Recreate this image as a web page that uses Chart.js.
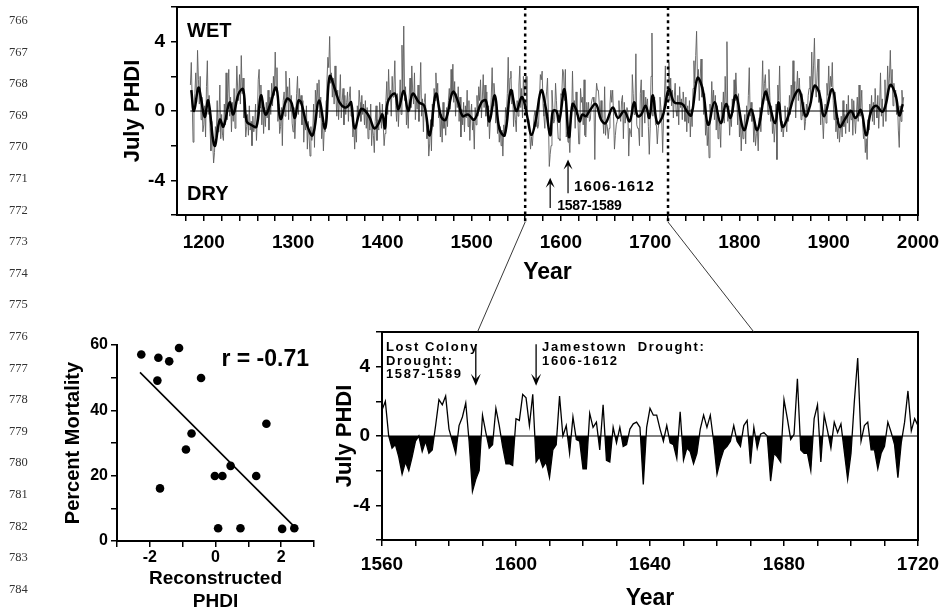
<!DOCTYPE html>
<html><head><meta charset="utf-8">
<script src="https://cdn.jsdelivr.net/npm/chart.js@4.4.1/dist/chart.umd.min.js"></script>
<style>
html,body{margin:0;padding:0;background:#fff}
body{width:944px;height:614px;overflow:hidden;position:relative;font-family:"Liberation Sans",Arial,sans-serif}
canvas{position:absolute}
.ln{position:absolute;left:9px;font-family:"Liberation Serif","Times New Roman",serif;font-size:12.5px;color:#333;line-height:14px}
</style></head><body>
<canvas id="top" width="944" height="290" style="left:0;top:0"></canvas>
<canvas id="scat" width="290" height="314" style="left:40px;top:300px"></canvas>
<canvas id="zoom" width="644" height="314" style="left:300px;top:300px"></canvas>
<canvas id="over" width="944" height="614" style="left:0;top:0;pointer-events:none"></canvas>
<script>
// ---------------- DATA ----------------
const lineNumbers = [766,767,768,769,770,771,772,773,774,775,776,777,778,779,780,781,782,783,784];

// Reconstructed July PHDI, annual, 1185-1559
const recStartYear = 1185;
const recPHDI_early = [
 1.5, 2.8, 0.6, -1.8, 0.2,
 1.0, 2.2, 0.5, 3.5, 1.8, 0.4, 2.0, -0.5, 0.8, -1.2,
 -0.8, 0.3, -1.5, 1.4, 2.9, -0.2, 0.9, -1.0, -2.3, -0.6,
 -1.8, -3.0, -2.4, -0.9, -1.5, 0.6, -1.2, -0.3, 1.5, -1.6,
 -0.2, -1.4, -1.7, 0.4, -0.8, 2.2, -0.5, 1.0, 2.4, -0.3,
 0.8, -1.2, 0.5, -0.6, 1.3, -1.0, 0.4, 2.6, 1.2, 0.6,
 2.1, 0.4, 3.2, 1.0, 1.9, -0.4, 0.2, -1.5, -0.9, -0.2,
 -1.4, 0.3, -1.1, -0.6, -2.0, -0.3, -1.2, -0.8, 0.4, -1.7,
 -0.5, 1.8, 2.4, 0.2, 1.5, -0.8, 0.6, -1.3, 0.2, -0.9,
 0.5, -0.4, 1.2, -1.1, 0.8, -0.2, 1.6, 0.3, 2.0, 0.9,
 3.4, 1.2, 2.5, -0.6, 0.4, -1.3, -0.9, 0.2, -2.0, 0.6,
 1.1, -0.3, 2.3, 0.5, 1.4, -0.5, 1.9, 0.0, 0.9, -0.7,
 -1.2, 0.2, -1.6, -0.4, 1.0, 2.0, -0.2, 1.3, 0.4, 0.9,
 -0.8, 0.6, -1.8, -0.4, -1.1, 0.3, -2.2, -0.6, -1.5, -2.6,
 -0.9, -1.7, -1.3, 0.4, -2.1, 1.2, 0.2, 1.6, 0.5, 1.8,
 -0.4, 0.8, -1.6, -0.7, -2.3, -0.9, -1.2, 0.6, 1.8, 3.1,
 2.5, 4.3, 1.6, 2.2, 0.8, 1.9, 0.4, 2.6, 0.9, -0.3,
 1.2, -0.5, 0.7, 2.1, -0.4, 0.6, 1.3, -0.8, 0.9, -0.2,
 0.5, 1.1, -0.6, 0.8, 1.4, -0.3, 0.2, -1.5, -0.7, -2.2,
 -0.9, -1.8, 0.3, -0.4, 1.2, 0.5, -0.6, 0.9, -0.2, 0.4,
 -0.8, 0.6, -1.0, 0.2, -1.6, -0.3, -1.1, 0.4, -2.0, -0.9,
 -1.4, -2.4, -0.6, 0.3, -1.7, -0.5, -1.1, 0.5, -0.2, -1.0,
 0.4, -0.8, -2.0, -1.3, 0.6, 1.7, -0.2, 2.4, 0.7, 1.2,
 -0.3, 2.0, 0.8, 1.5, 2.9, 0.3, -0.6, 1.0, -0.9, 0.4,
 1.8, -0.2, 3.8, 0.9, 4.9, 0.6, 1.4, -0.8, 0.3, -1.0,
 0.7, 1.9, 0.2, 2.6, 1.1, 0.4, 2.2, -0.5, 0.8, 0.1,
 1.5, -0.6, 0.9, 2.8, -0.3, 0.7, -1.2, 0.5, 1.0, -0.4,
 -1.6, -0.8, -2.6, -1.9, -0.5, -2.3, 0.4, -0.9, 1.3, 0.6,
 2.2, 0.8, 1.6, -0.4, 0.3, -1.5, -0.2, -1.8, 0.5, -1.0,
 -0.6, -1.4, 0.2, -0.9, 0.6, 1.3, 0.1, 2.4, 1.0, 2.7,
 0.5, 1.7, -0.3, 1.0, 0.2, 1.4, -0.6, 0.8, -1.5, 0.1,
 -0.8, 0.5, -1.2, 0.3, -0.4, 1.2, -0.9, 0.6, -1.7, -0.2,
 0.4, -1.1, -0.6, -2.2, 0.2, -0.8, 0.9, -0.3, 1.4, 0.6,
 1.8, -0.4, 0.7, 2.1, 0.2, 1.5, -0.3, 1.1, -0.9, 0.3,
 -1.6, -0.5, 0.8, 2.5, 0.3, 1.6, 0.9, -0.7, 0.4, -1.3,
 -0.6, -1.8, -0.9, -2.0, -1.1, -2.6, -0.8, -1.5, 0.2, -0.4,
 1.0, 3.1, 0.6, 1.9, 2.3, 0.4, 1.2, -0.9, 0.3, -0.5,
 -1.2, 0.6, -0.3, 1.5, 2.6, 0.2, 1.3, -0.4, 2.0, 0.9
];

// Enlarged period 1560-1720 (lower right panel)
const zoomStartYear = 1560;
const zoomPHDI = [
 1.5, 2.0, 0.0, -0.7, -0.5, -1.2, -2.2, -1.5, -2.0, -1.2,
 -0.3, 0.0, -0.9, -0.3, -1.0, -0.8, 0.6, 2.1, 1.8, 2.3,
 0.4, -0.3, -1.0, 0.6, 1.1, 1.9, -0.3, -3.2, -2.5, -2.0,
 1.2, 0.2, -0.7, -0.5, 1.6, 0.6, -0.6, -1.6, -1.6, -1.7,
 1.0, 0.9, 2.4, 2.2, 0.6, 2.4, -1.5, -1.2, -1.8, -1.5,
 -2.4, -0.8, -0.5, 2.3, 0.0, 0.6, -1.0, 1.1, -0.2, -0.3,
 -1.9, -1.9, 1.3, 0.5, 0.8, -0.8, 1.8, -1.4, -1.5, 0.5,
 -0.4, 0.5, -0.6, -0.5, 0.4, 0.7, 0.8, 0.5, -2.8, 0.5,
 1.6, 1.2, 1.2, 0.4, -0.3, 0.6, -0.4, -0.5, -1.3, 1.4,
 -1.4, -0.7, -0.9, -1.6, -1.0, 0.4, 1.2, 0.5, 1.2, -0.3,
 -2.2, -1.4, -0.8, -0.6, -0.3, 0.6, -0.3, -0.6, 0.6, 0.9,
 -1.6, 0.5, -0.7, 0.1, 0.2, 0.0, -2.6, -1.0, -1.2, -1.5,
 2.1, 1.0, -0.2, 0.1, 3.3, -0.8, -1.0, -1.0, -2.0, 1.0,
 1.8, -1.5, 1.2, 0.3, -0.7, 0.8, 0.2, 0.7, -0.9, -2.5,
 -1.0, 2.0, 4.5, -0.3, 0.6, 0.8, -0.8, -0.8, -1.9, -1.0,
 -0.6, 0.8, 0.2, -0.5, -2.4, -0.4, 0.8, 2.6, 0.3, 1.0,
 0.6
];

// Reconstructed July PHDI, annual, 1721-1984
const recPHDI_late = [
 2.8, 0.6, 1.9, 0.3, 1.2, -0.4, 0.8, 1.6, 0.0,
 -0.3, 0.9, -0.8, 1.4, 0.2, 0.7, -0.5, 1.1, 0.4, -0.6,
 0.8, -1.2, 0.3, -0.7, 0.6, -1.5, 0.1, -0.9, 1.3, 2.9,
 1.6, 3.2, 4.6, 1.8, 2.4, 0.6, 1.9, 3.0, 0.8, 1.4,
 -0.2, 1.0, -1.4, -0.6, -2.0, -0.9, -2.7, 0.4, -0.3, 1.7,
 0.2, 1.2, -0.5, 0.9, -1.1, 0.3, -1.6, -0.4, -0.9, -2.1,
 0.5, -0.2, 1.1, -0.7, 2.0, 0.4, 4.0, -0.6, 0.3, -1.4,
 -0.3, -0.9, 0.7, -0.1, 1.8, 0.6, 2.2, 0.9, -0.8, 1.0,
 -1.5, -0.4, -2.3, -0.8, -1.6, -1.0, -0.2, -1.9, 0.3, -0.7,
 0.9, 2.5, -0.3, 0.5, -0.6, 0.1, -1.8, -0.8, -2.0, -1.3,
 -1.0, -2.3, -0.4, 0.2, -1.2, 0.8, 2.9, 0.4, 1.6, 2.1,
 0.6, 1.3, -0.2, 2.4, 0.9, -0.6, 0.3, -1.3, -0.5, -1.8,
 -0.8, 0.4, -2.8, 1.5, 0.6, 2.6, -0.1, -1.2, -0.6, -1.5,
 -0.9, 0.3, -0.7, -1.2, 0.2, -0.6, 0.9, -0.2, 1.5, 0.4,
 2.9, 0.8, 1.7, -0.4, 1.2, 2.3, 0.6, 1.9, 0.8, -0.5,
 1.0, -0.3, 0.5, -1.1, -0.6, 0.4, -0.2, 0.9, 1.3, 2.0,
 0.6, 3.4, 1.1, 2.6, 4.2, 1.5, 0.8, 2.2, 3.0, 0.5,
 1.2, -0.8, 0.7, -0.4, -1.6, -0.2, 0.4, -0.7, 1.6, 0.9,
 2.6, 0.8, 2.0, 1.4, 2.8, 0.6, -0.5, 1.1, -1.2, -0.6,
 -1.6, -0.4, -1.8, -1.1, -0.3, -1.5, 0.6, -0.9, -0.2, -1.3,
 0.4, -0.7, 0.9, -1.2, 0.1, -0.5, 0.7, -1.4, 0.6, -0.4,
 -1.3, -0.2, 0.8, -0.6, 1.5, -0.3, 0.2, 1.2, -0.8, -1.6,
 -0.9, -2.4, -1.6, -2.8, -0.5, -1.1, 0.4, -0.2, 0.9, -0.6,
 0.5, -0.8, 1.3, 0.2, -0.4, 0.9, -1.0, 0.3, 2.2, -0.3,
 0.7, -0.9, 0.2, 1.8, -0.6, 0.5, 2.6, 1.1, 1.9, 3.5,
 1.4, 2.4, 0.3, 1.6, 0.8, 1.2, -0.2, 0.6, -1.1, -2.1,
 0.3, -0.6, 1.2, 0.4, 0.8
];

// Smoothed (low-pass) series, [year, PHDI]
const smoothedPHDI = [
 [1186,1.2],[1189,0.0],[1194,1.35],[1197,0.7],[1201,-0.35],[1205,0.6],[1212,-2.0],[1218,-0.5],
 [1222,-0.9],[1229,0.5],[1233,-0.2],[1239,1.0],[1244,1.25],[1248,-0.6],[1253,-0.8],[1259,-0.9],
 [1264,0.9],[1269,-0.2],[1274,0.3],[1281,1.35],[1286,-0.45],[1293,0.7],[1298,0.5],[1302,-0.4],
 [1306,0.6],[1309,0.5],[1315,-0.7],[1322,-1.4],[1329,0.6],[1336,-1.0],[1341,2.0],[1347,1.25],
 [1352,0.5],[1358,0.2],[1362,0.3],[1365,0.5],[1369,-1.0],[1376,0.1],[1381,0.0],[1386,-0.4],
 [1391,-1.0],[1396,-0.7],[1400,-0.2],[1403,-1.0],[1406,0.5],[1414,1.0],[1418,0.1],[1424,1.15],
 [1429,0.0],[1434,1.0],[1441,0.5],[1447,0.3],[1453,-1.4],[1460,1.0],[1466,-0.35],[1471,-0.5],
 [1479,1.1],[1485,0.5],[1490,-0.3],[1496,-0.2],[1503,-0.5],[1511,0.5],[1516,0.6],[1520,-0.6],
 [1526,0.9],[1531,-1.0],[1537,-1.4],[1544,1.2],[1550,0.0],[1556,0.8],[1559,0.5],[1563,-0.5],
 [1567,-1.4],[1572,-0.5],[1578,1.2],[1583,0.2],[1588,-1.4],[1591,0.0],[1595,0.0],[1598,-0.6],
 [1604,1.25],[1609,-1.5],[1613,0.4],[1617,0.1],[1621,-0.6],[1624,-0.2],[1628,-0.3],[1632,0.0],
 [1639,0.4],[1645,-0.5],[1650,-0.7],[1658,0.2],[1664,-0.4],[1671,0.0],[1677,-0.6],[1682,0.5],
 [1686,-0.3],[1690,-0.2],[1695,0.3],[1699,-0.4],[1703,0.9],[1708,-0.7],[1714,-0.3],[1721,1.25],
 [1727,0.5],[1736,0.4],[1741,0.0],[1746,-0.25],[1753,1.9],[1759,1.2],[1765,-0.8],[1772,0.5],
 [1779,-0.7],[1785,0.4],[1790,-0.4],[1796,0.9],[1805,-1.1],[1813,0.1],[1820,-1.1],[1829,1.1],
 [1833,0.5],[1840,-0.7],[1844,0.5],[1848,-0.9],[1854,-0.4],[1861,0.8],[1867,1.2],[1874,-0.3],
 [1879,0.3],[1884,1.45],[1889,1.1],[1895,-0.3],[1904,1.25],[1912,-0.9],[1919,-0.4],[1925,0.0],
 [1930,-0.4],[1936,0.05],[1942,-1.4],[1947,-0.1],[1953,0.3],[1960,-0.05],[1964,0.4],[1969,1.5],
 [1975,0.9],[1979,-0.25],[1983,0.4]
];

// Scatter: reconstructed PHDI vs percent mortality
const mortPHDI = [-2.26,-1.74,-1.41,-1.11,-1.77,-0.44,-0.73,-0.90,-1.69,-0.02,0.21,0.46,1.24,1.55,0.08,0.76,2.03,2.40];
const mortPct  = [57.1,56.1,55.0,59.1,49.1,49.9,32.9,28.0,16.1,19.9,19.9,23.0,19.9,35.9,3.9,3.9,3.7,3.9];
const fitX = [-2.3, 2.4];
const fitY = [51.6, 4.4];
const corrText = 'r = -0.71';

// Tick labels
const topXLabels = [1200,1300,1400,1500,1600,1700,1800,1900,2000];
const phdiLabels = [4,0,-4];
const zoomXLabels = [1560,1600,1640,1680,1720];
const scatXLabels = [-2,0,2];
const scatYLabels = [0,20,40,60];

// Annotation years
const zoomRange = [1560,1720];
const droughtArrowYears = [1588,1608];
const zoomArrowYears = [1588,1606];
const connectYears = [1588.5,1671];

// ---------------- RENDER ----------------
const FONT = '"Liberation Sans", Arial, Helvetica, sans-serif';
Chart.defaults.font.family = FONT;
Chart.defaults.color = '#000';

lineNumbers.forEach((n,i)=>{
  const d=document.createElement('div'); d.className='ln'; d.textContent=n;
  d.style.top=(13+i*31.6)+'px'; document.body.appendChild(d);
});

const annual = recPHDI_early.concat(zoomPHDI, recPHDI_late);
const annualPts = annual.map((v,i)=>({x:recStartYear+i,y:v}));
const zoomPts = zoomPHDI.map((v,i)=>({x:zoomStartYear+i,y:v}));
const smoothPts = smoothedPHDI.map(p=>({x:p[0],y:p[1]}));
const zeroPts = [{x:annualPts[0].x,y:0},{x:annualPts[annualPts.length-1].x,y:0}];

function ticksFrom(min,max,step){const a=[];for(let v=min;v<=max+1e-9;v+=step)a.push({value:Math.round(v*1000)/1000});return a;}
function makeAxis(o){
  return {
    type:'linear', min:o.min, max:o.max, position:o.position,
    border:{display:true,color:'#000',width:2},
    grid:{drawOnChartArea:false,drawTicks:true,tickLength:6,color:'#000',lineWidth:1.5},
    afterBuildTicks:s=>{s.ticks=ticksFrom(o.t0,o.max,o.step);},
    afterFit:s=>{
      if(o.width!=null) s.width=o.width;
      if(o.height!=null) s.height=o.height;
      s.paddingTop=0; s.paddingBottom=0; s.paddingLeft=0; s.paddingRight=0;
    },
    ticks:{autoSkip:false,maxRotation:0,minRotation:0,padding:o.pad,color:'#000',
      font:{size:o.fs,weight:'bold'},
      callback:v=>o.labels.includes(v)?String(v):''},
    title:{display:true,text:o.title,color:'#000',font:{size:o.tfs,weight:'bold',lineHeight:o.tlh||1.2},padding:o.tpad||0}
  };
}

function arrow(ctx,x,yTail,yTip,hw,hl,lw){
  const dir=Math.sign(yTip-yTail);
  ctx.lineWidth=lw; ctx.beginPath(); ctx.moveTo(x,yTail); ctx.lineTo(x,yTip-dir*hl*0.5); ctx.stroke();
  ctx.beginPath(); ctx.moveTo(x,yTip); ctx.lineTo(x-hw,yTip-dir*hl); ctx.lineTo(x,yTip-dir*hl*0.55);
  ctx.lineTo(x+hw,yTip-dir*hl); ctx.closePath(); ctx.fill();
}

const topDecor = {
  id:'topDecor',
  afterDatasetsDraw(chart){
    const {ctx, chartArea:a, scales:{x,y}} = chart;
    ctx.save();
    ctx.strokeStyle='#000'; ctx.fillStyle='#000';
    ctx.lineWidth=2.5; ctx.setLineDash([3,3.6]);
    zoomRange.forEach(yr=>{const px=x.getPixelForValue(yr);ctx.beginPath();ctx.moveTo(px,a.top);ctx.lineTo(px,a.bottom+7);ctx.stroke();});
    ctx.setLineDash([]);
    const ax1=x.getPixelForValue(droughtArrowYears[0]), ax2=x.getPixelForValue(droughtArrowYears[1]);
    arrow(ctx,ax1,y.getPixelForValue(-5.6),y.getPixelForValue(-3.85),4.5,10,1.2);
    arrow(ctx,ax2,y.getPixelForValue(-4.75),y.getPixelForValue(-2.8),4.5,10,1.2);
    ctx.textBaseline='middle'; ctx.textAlign='left';
    ctx.font='bold 15px '+FONT; ctx.letterSpacing='1px';
    ctx.fillText('1606-1612',ax2+6,y.getPixelForValue(-4.4));
    ctx.font='bold 14px '+FONT; ctx.letterSpacing='-0.3px';
    ctx.fillText('1587-1589',ax1+7,y.getPixelForValue(-5.5));
    ctx.letterSpacing='0px';
    ctx.font='bold 20px '+FONT;
    ctx.fillText('WET',a.left+10,a.top+24);
    ctx.fillText('DRY',a.left+10,a.bottom-21);
    ctx.lineWidth=2; ctx.strokeRect(a.left,a.top,a.right-a.left,a.bottom-a.top);
    ctx.restore();
  }
};

const topChart = new Chart(document.getElementById('top'), {
  type:'line',
  data:{datasets:[
    {data:smoothPts,borderColor:'#000',borderWidth:2.5,pointRadius:0,tension:0.4},
    {data:zeroPts,borderColor:'#000',borderWidth:1,pointRadius:0},
    {data:annualPts,borderColor:'#5e5e5e',borderWidth:0.9,pointRadius:0,tension:0}
  ]},
  options:{responsive:false,animation:false,devicePixelRatio:1,parsing:false,
    layout:{padding:{left:120,top:7,right:26,bottom:0}},
    plugins:{legend:{display:false},tooltip:{enabled:false}},
    scales:{
      x:makeAxis({min:1170,max:2000,t0:1180,step:20,labels:topXLabels,height:75,pad:10.6,fs:19,title:'Year',tfs:23,tpad:{top:0,bottom:4},position:'bottom'}),
      y:makeAxis({min:-6,max:6,t0:-6,step:2,labels:phdiLabels,width:57,pad:6,fs:19,title:'July PHDI',tfs:22,position:'left'})
    }
  },
  plugins:[topDecor]
});

const zoomDecor = {
  id:'zoomDecor',
  beforeDatasetsDraw(chart){
    const {ctx, chartArea:a, scales:{y}} = chart;
    ctx.save(); ctx.strokeStyle='#000'; ctx.lineWidth=1;
    const py=y.getPixelForValue(0);
    ctx.beginPath(); ctx.moveTo(a.left,py); ctx.lineTo(a.right,py); ctx.stroke();
    ctx.restore();
  },
  afterDatasetsDraw(chart){
    const {ctx, chartArea:a, scales:{x,y}} = chart;
    ctx.save(); ctx.strokeStyle='#000'; ctx.fillStyle='#000';
    zoomArrowYears.forEach(yr=>arrow(ctx,x.getPixelForValue(yr),y.getPixelForValue(5.3),y.getPixelForValue(2.9),5,12,1.3));
    ctx.textBaseline='middle'; ctx.textAlign='left';
    ctx.font='bold 13px '+FONT; ctx.letterSpacing='1.6px';
    ctx.fillText('Lost Colony',a.left+4,a.top+15);
    ctx.fillText('Drought:',a.left+4,a.top+29);
    ctx.fillText('1587-1589',a.left+4,a.top+42);
    const jx=x.getPixelForValue(zoomArrowYears[1])+6;
    ctx.fillText('Jamestown  Drought:',jx,a.top+15);
    ctx.fillText('1606-1612',jx,a.top+29);
    ctx.letterSpacing='0px';
    ctx.lineWidth=2; ctx.strokeRect(a.left,a.top,a.right-a.left,a.bottom-a.top);
    ctx.restore();
  }
};

const zoomChart = new Chart(document.getElementById('zoom'), {
  type:'line',
  data:{datasets:[
    {data:zoomPts,borderColor:'#000',borderWidth:1.3,pointRadius:0,tension:0,
     fill:{target:{value:0},above:'rgba(0,0,0,0)',below:'#000'}}
  ]},
  options:{responsive:false,animation:false,devicePixelRatio:1,parsing:false,
    layout:{padding:{left:32,top:32,right:26,bottom:0}},
    plugins:{legend:{display:false},tooltip:{enabled:false}},
    scales:{
      x:makeAxis({min:1560,max:1720,t0:1560,step:10,labels:zoomXLabels,height:74,pad:7.6,fs:19,title:'Year',tfs:23,tpad:{top:0,bottom:2},position:'bottom'}),
      y:makeAxis({min:-6,max:6,t0:-6,step:2,labels:phdiLabels,width:50,pad:6,fs:19,title:'July PHDI',tfs:22,position:'left'})
    }
  },
  plugins:[zoomDecor]
});

const scatDecor = {
  id:'scatDecor',
  afterDatasetsDraw(chart){
    const {ctx, chartArea:a} = chart;
    ctx.save(); ctx.fillStyle='#000'; ctx.font='bold 23px '+FONT;
    ctx.textAlign='right'; ctx.textBaseline='middle';
    ctx.fillText(corrText,a.right-5,a.top+15);
    ctx.restore();
  }
};

const scatChart = new Chart(document.getElementById('scat'), {
  type:'scatter',
  data:{datasets:[
    {data:mortPHDI.map((v,i)=>({x:v,y:mortPct[i]})),backgroundColor:'#000',borderColor:'#000',pointRadius:4.3,pointBorderWidth:0},
    {data:fitX.map((v,i)=>({x:v,y:fitY[i]})),showLine:true,borderColor:'#000',borderWidth:1.6,pointRadius:0}
  ]},
  options:{responsive:false,animation:false,devicePixelRatio:1,parsing:false,clip:false,
    layout:{padding:{left:21,top:45,right:16,bottom:0}},
    plugins:{legend:{display:false},tooltip:{enabled:false}},
    scales:{
      x:makeAxis({min:-3,max:3,t0:-3,step:1,labels:scatXLabels,height:73,pad:1.4,fs:16,title:['Reconstructed','PHDI'],tfs:19,tlh:1.25,tpad:{top:0,bottom:0},position:'bottom'}),
      y:makeAxis({min:0,max:60,t0:0,step:10,labels:scatYLabels,width:56,pad:3,fs:16,title:'Percent Mortality',tfs:20,position:'left'})
    }
  },
  plugins:[scatDecor]
});

// connector lines between the top panel and the enlarged panel
(function(){
  const o=document.getElementById('over').getContext('2d');
  const tx=topChart.scales.x, ta=topChart.chartArea;
  const zx=zoomChart.scales.x, za=zoomChart.chartArea;
  o.strokeStyle='#222'; o.lineWidth=0.9;
  zoomRange.forEach((yr,i)=>{
    o.beginPath();
    o.moveTo(tx.getPixelForValue(yr),ta.bottom+7);
    o.lineTo(300+zx.getPixelForValue(connectYears[i]),300+za.top);
    o.stroke();
  });
})();
</script>
</body></html>
